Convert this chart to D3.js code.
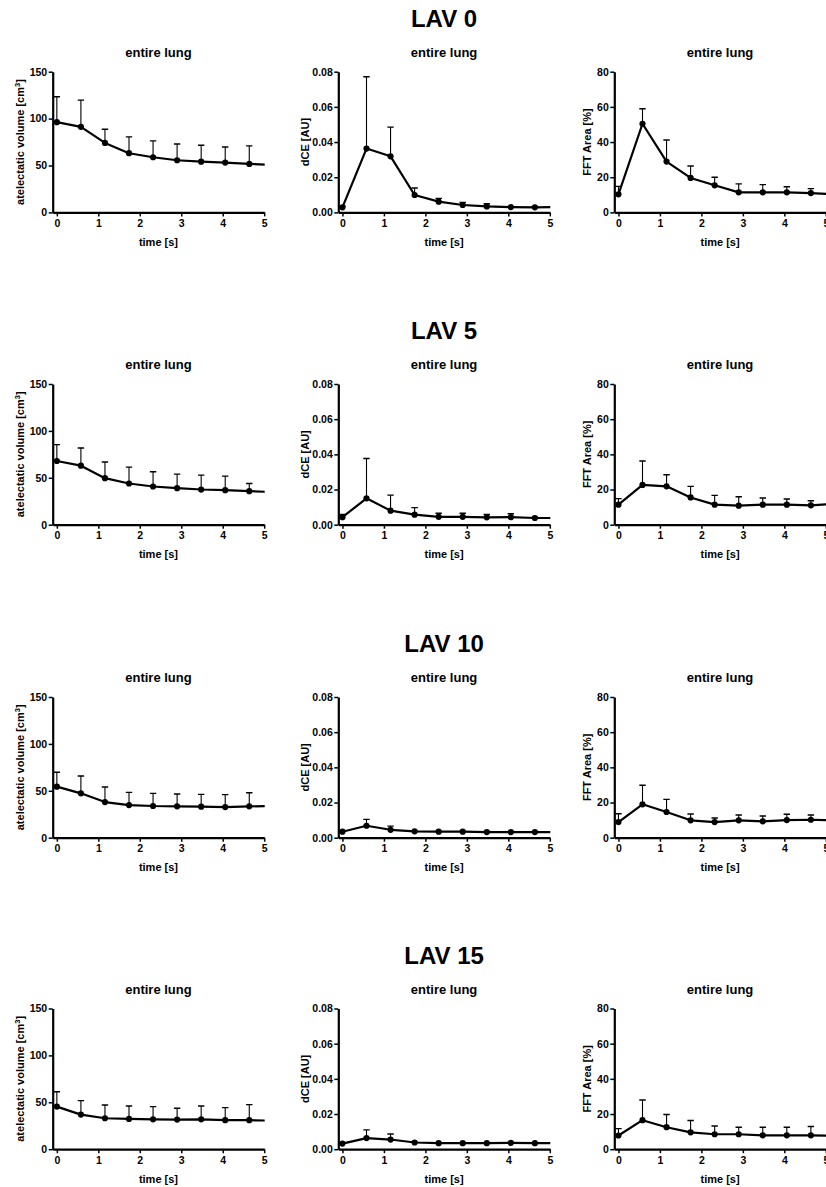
<!DOCTYPE html>
<html>
<head>
<meta charset="utf-8">
<script src="https://cdn.jsdelivr.net/npm/d3@7"></script>
<style>
  html, body { margin: 0; padding: 0; background: #fff; }
  svg { display: block; font-family: "Liberation Sans", Arial, Helvetica, sans-serif; font-weight: bold; }
</style>
</head>
<body>
<svg id="chart" width="826" height="1187"></svg>
<script>
// ---------------- DATA ----------------
const times = [0, 0.58, 1.16, 1.74, 2.32, 2.9, 3.48, 4.06, 4.64, 5.22];
const groupTitles = ["LAV 0", "LAV 5", "LAV 10", "LAV 15"];
const panelTitle = "entire lung";
const xTicks = [0, 1, 2, 3, 4, 5];
const volTicks = [0, 50, 100, 150];
const dceTicks = [0, 0.02, 0.04, 0.06, 0.08];
const fftTicks = [0, 20, 40, 60, 80];

// atelectatic volume (mean, mean+SD)
const lav0Vol    = [96.2, 91.2, 74.1, 63.1, 58.8, 55.6, 54.1, 53.1, 51.7, 50.6];
const lav0VolUp  = [123.3, 119.7, 88.7, 80.5, 76.2, 73.0, 71.6, 69.8, 70.9, null];
const lav5Vol    = [67.9, 62.9, 49.6, 43.9, 40.7, 38.9, 37.5, 36.8, 35.7, 34.8];
const lav5VolUp  = [85.4, 81.8, 66.8, 61.4, 56.4, 53.9, 52.9, 51.8, 43.9, null];
const lav10Vol   = [54.4, 47.3, 38.0, 34.8, 33.8, 33.4, 33.1, 32.7, 33.4, 33.8];
const lav10VolUp = [69.7, 65.8, 54.0, 48.3, 47.3, 46.6, 46.2, 45.9, 48.0, null];
const lav15Vol   = [45.4, 36.9, 33.0, 32.3, 31.9, 31.6, 31.9, 30.9, 30.9, 30.4];
const lav15VolUp = [61.3, 51.8, 47.2, 46.1, 45.4, 43.6, 46.1, 44.3, 47.5, null];

// dCE [AU]
const lav0Dce    = [0.0029, 0.0363, 0.0319, 0.0099, 0.0061, 0.0042, 0.0034, 0.0030, 0.0029, 0.0030];
const lav0DceUp  = [0.0035, 0.0771, 0.0485, 0.0139, 0.0080, 0.0057, 0.0049, 0.0033, 0.0032, null];
const lav5Dce    = [0.0043, 0.0150, 0.0080, 0.0057, 0.0045, 0.0045, 0.0042, 0.0043, 0.0038, 0.0038];
const lav5DceUp  = [0.0058, 0.0376, 0.0168, 0.0097, 0.0065, 0.0065, 0.0058, 0.0062, 0.0042, null];
const lav10Dce   = [0.0034, 0.0068, 0.0045, 0.0036, 0.0034, 0.0034, 0.0032, 0.0032, 0.0032, 0.0032];
const lav10DceUp = [0.0038, 0.0104, 0.0066, 0.0040, 0.0037, 0.0037, 0.0035, 0.0035, 0.0035, null];
const lav15Dce   = [0.0032, 0.0063, 0.0055, 0.0038, 0.0034, 0.0034, 0.0034, 0.0036, 0.0034, 0.0034];
const lav15DceUp = [0.0035, 0.0110, 0.0086, 0.0041, 0.0037, 0.0037, 0.0037, 0.0039, 0.0037, null];

// FFT Area [%]
const lav0Fft    = [10.3, 50.4, 28.9, 19.6, 15.4, 11.4, 11.4, 11.4, 11.0, 10.3];
const lav0FftUp  = [14.8, 58.9, 41.2, 26.4, 20.0, 16.2, 15.8, 14.6, 13.5, null];
const lav5Fft    = [11.4, 22.6, 21.8, 15.5, 11.4, 10.8, 11.4, 11.4, 11.0, 11.9];
const lav5FftUp  = [14.8, 36.2, 28.4, 21.8, 16.7, 15.9, 15.2, 14.6, 13.6, null];
const lav10Fft   = [8.9, 19.0, 14.6, 9.9, 8.9, 9.9, 9.3, 10.0, 10.2, 9.8];
const lav10FftUp = [13.6, 29.8, 21.8, 13.5, 11.2, 12.9, 12.3, 13.3, 12.9, null];
const lav15Fft   = [7.8, 16.5, 12.5, 9.6, 8.5, 8.5, 7.9, 7.9, 7.9, 7.7];
const lav15FftUp = [11.7, 28.0, 19.7, 16.3, 13.2, 12.5, 12.5, 12.5, 12.9, null];

// ---------------- LAYOUT ----------------
const svg = d3.select("#chart");
const colLeft = [52.7, 338.3, 614.3];
const plotW = 211.5;
const rowTop = [71.7, 384, 697, 1008.5];
const plotH = 140.7;

const panelDefs = [
  { ylabel: "vol", ticks: volTicks, max: 150, fmt: d3.format("d"), titleOff: 29,
    rows: [[lav0Vol, lav0VolUp], [lav5Vol, lav5VolUp], [lav10Vol, lav10VolUp], [lav15Vol, lav15VolUp]] },
  { ylabel: "dCE [AU]", ticks: dceTicks, max: 0.08, fmt: d3.format(".2f"), titleOff: 29,
    rows: [[lav0Dce, lav0DceUp], [lav5Dce, lav5DceUp], [lav10Dce, lav10DceUp], [lav15Dce, lav15DceUp]] },
  { ylabel: "FFT Area [%]", ticks: fftTicks, max: 80, fmt: d3.format("d"), titleOff: 23,
    rows: [[lav0Fft, lav0FftUp], [lav5Fft, lav5FftUp], [lav10Fft, lav10FftUp], [lav15Fft, lav15FftUp]] }
];

const defs = svg.append("defs");

rowTop.forEach((top, r) => {
  // group title centred over middle column
  const midCenter = colLeft[1] + plotW / 2;
  svg.append("text")
    .attr("x", midCenter).attr("y", top - 45)
    .attr("text-anchor", "middle")
    .attr("font-size", 24)
    .text(groupTitles[r]);

  panelDefs.forEach((pd, c) => {
    const left = colLeft[c];
    const x = d3.scaleLinear().domain([-0.1, 5]).range([left, left + plotW]);
    const y = d3.scaleLinear().domain([0, pd.max]).range([top + plotH, top]);
    const g = svg.append("g");
    const clipId = `clip-${r}-${c}`;
    defs.append("clipPath").attr("id", clipId)
      .append("rect")
      .attr("x", left).attr("y", top - 20)
      .attr("width", x(5) - left + 0.5).attr("height", plotH + 20);

    // panel title
    g.append("text")
      .attr("x", left + plotW / 2).attr("y", top - 15)
      .attr("text-anchor", "middle")
      .attr("font-size", 13)
      .text(panelTitle);

    // data layer
    const [vals, ups] = pd.rows[r];
    const pts = times.map((t, i) => ({ t, v: vals[i], u: ups[i] }));
    const dl = g.append("g").attr("clip-path", `url(#${clipId})`);

    const eb = dl.selectAll(".eb").data(pts.filter(d => d.u != null)).join("g");
    eb.append("line")
      .attr("x1", d => x(d.t)).attr("x2", d => x(d.t))
      .attr("y1", d => y(d.v)).attr("y2", d => y(d.u))
      .attr("stroke", "#000").attr("stroke-width", 1.1);
    eb.append("line")
      .attr("x1", d => x(d.t) - 3.2).attr("x2", d => x(d.t) + 3.2)
      .attr("y1", d => y(d.u)).attr("y2", d => y(d.u))
      .attr("stroke", "#000").attr("stroke-width", 1.4);

    dl.append("path")
      .datum(pts)
      .attr("fill", "none").attr("stroke", "#000").attr("stroke-width", 2.2)
      .attr("stroke-linejoin", "round")
      .attr("d", d3.line().x(d => x(d.t)).y(d => y(d.v)));

    dl.selectAll(".pt").data(pts).join("circle")
      .attr("cx", d => x(d.t)).attr("cy", d => y(d.v)).attr("r", 3.1)
      .attr("fill", "#000");

    // axes
    const yAxis = g.append("g")
      .attr("transform", `translate(${left},0)`)
      .call(d3.axisLeft(y).tickValues(pd.ticks).tickFormat(pd.fmt).tickSize(4).tickSizeOuter(0).tickPadding(1.5));
    const xAxis = g.append("g")
      .attr("transform", `translate(0,${top + plotH})`)
      .call(d3.axisBottom(x).tickValues(xTicks).tickFormat(d3.format("d")).tickSize(4).tickSizeOuter(0).tickPadding(3));
    [yAxis, xAxis].forEach(ax => {
      ax.attr("font-family", null).attr("font-size", 10.5);
      ax.select(".domain").attr("stroke", "#000").attr("stroke-width", 2.2);
      ax.selectAll(".tick line").attr("stroke", "#000").attr("stroke-width", 1.5);
      ax.selectAll(".tick text").attr("fill", "#000");
    });

    // x title
    g.append("text")
      .attr("x", left + plotW / 2).attr("y", top + plotH + 33.5)
      .attr("text-anchor", "middle").attr("font-size", 11)
      .text("time [s]");

    // y title
    const yt = g.append("text")
      .attr("transform", `translate(${left - pd.titleOff},${top + plotH / 2}) rotate(-90)`)
      .attr("text-anchor", "middle").attr("font-size", 11);
    if (pd.ylabel === "vol") {
      yt.append("tspan").text("atelectatic volume [cm");
      yt.append("tspan").attr("font-size", 7.5).attr("dy", -4).text("3");
      yt.append("tspan").attr("dy", 4).text("]");
    } else {
      yt.text(pd.ylabel);
    }
  });
});
</script>
</body>
</html>
